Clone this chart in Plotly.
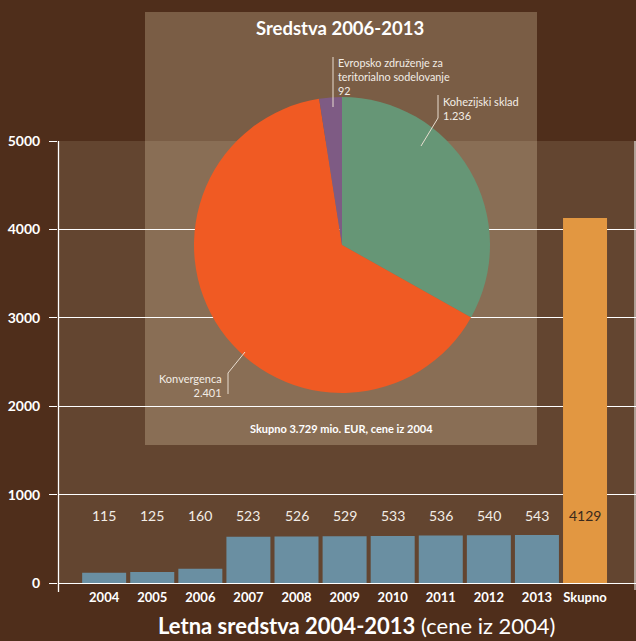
import plotly.graph_objects as go

# ---- data ----
years = ["2004", "2005", "2006", "2007", "2008", "2009", "2010", "2011", "2012", "2013", "Skupno"]
annual = [115, 125, 160, 523, 526, 529, 533, 536, 540, 543, 4129]
y_ticks = [0, 1000, 2000, 3000, 4000, 5000]

pie_labels = ["Kohezijski sklad", "Konvergenca", "Evropsko združenje za teritorialno sodelovanje"]
pie_values = [1236, 2401, 92]
pie_value_text = ["1.236", "2.401", "92"]

W, H = 636, 641
FONT = "Lato"
BG = "#4f2e1b"
PLOT_BG = "#634530"
BLUE = "#6a8fa2"
ORANGE = "#e29741"
TXT = "#f3ede6"

def px(x):
    return x / W

def py(y):
    return (H - y) / H

bar_colors = [BLUE] * (len(years) - 1) + [ORANGE]

fig = go.Figure()
fig.add_trace(go.Bar(
    x=years, y=annual, marker=dict(color=bar_colors, line=dict(width=0)),
    showlegend=False, hoverinfo="x+y", width=0.915,
))

fig.add_trace(go.Pie(
    labels=pie_labels, values=pie_values,
    marker=dict(colors=["#669676", "#f05a23", "#7e5b84"], line=dict(width=0)),
    sort=False, direction="clockwise", rotation=0,
    textinfo="none", showlegend=False,
    domain=dict(x=[px(194), px(490)], y=[py(393), py(97)]),
))

shapes = [
    # inset panel
    dict(type="rect", xref="paper", yref="paper", x0=px(145), x1=px(537), y0=py(445), y1=py(12),
         fillcolor="rgba(251,234,195,0.25)", line=dict(width=0), layer="below"),
    # left axis line
    dict(type="line", xref="paper", yref="paper", x0=px(58.5), x1=px(58.5), y0=py(592), y1=py(141),
         line=dict(color="white", width=1.3), layer="above"),
    # right edge line
    dict(type="line", xref="paper", yref="paper", x0=px(635), x1=px(635), y0=py(590), y1=py(141),
         line=dict(color="white", width=1), layer="above"),
    # connector lines for pie labels
    dict(type="path", xref="paper", yref="paper",
         path=f"M {px(333)} {py(57)} L {px(333)} {py(107)}",
         line=dict(color="#e8ddd0", width=1), layer="above"),
    dict(type="path", xref="paper", yref="paper",
         path=f"M {px(438)} {py(95)} L {px(438)} {py(118)} L {px(421)} {py(146)}",
         line=dict(color="#e8ddd0", width=1), layer="above"),
    dict(type="path", xref="paper", yref="paper",
         path=f"M {px(228)} {py(394)} L {px(228)} {py(373)} L {px(245)} {py(352)}",
         line=dict(color="#e8ddd0", width=1), layer="above"),
]

annotations = []
for i, (cat, v) in enumerate(zip(years, annual)):
    annotations.append(dict(
        x=i, y=760, xref="x", yref="y", text=str(v), showarrow=False,
        font=dict(family=FONT, size=14, color="#3a2a1c" if cat == "Skupno" else TXT),
        yanchor="middle",
    ))

annotations += [
    dict(x=px(340), y=py(28), xref="paper", yref="paper", showarrow=False,
         text="<b>Sredstva 2006-2013</b>", font=dict(family=FONT, size=18.5, color="white"),
         xanchor="center", yanchor="middle"),
    dict(x=px(341), y=py(428), xref="paper", yref="paper", showarrow=False,
         text="<b>Skupno 3.729 mio. EUR, cene iz 2004</b>", font=dict(family=FONT, size=11, color="white"),
         xanchor="center", yanchor="middle"),
    dict(x=px(336), y=py(54), xref="paper", yref="paper", showarrow=False, align="left",
         text="Evropsko združenje za<br>teritorialno sodelovanje<br>" + pie_value_text[2],
         font=dict(family=FONT, size=10.8, color=TXT), xanchor="left", yanchor="top"),
    dict(x=px(441), y=py(93), xref="paper", yref="paper", showarrow=False, align="left",
         text=pie_labels[0] + "<br>" + pie_value_text[0],
         font=dict(family=FONT, size=11, color=TXT), xanchor="left", yanchor="top"),
    dict(x=px(224), y=py(370), xref="paper", yref="paper", showarrow=False, align="right",
         text=pie_labels[1] + "<br>" + pie_value_text[1],
         font=dict(family=FONT, size=11, color=TXT), xanchor="right", yanchor="top"),
    dict(x=px(356), y=py(641), xref="paper", yref="paper", showarrow=False,
         text="<b>Letna sredstva 2004-2013</b> (cene iz 2004)",
         font=dict(family=FONT, size=22, color="white"), xanchor="center", yanchor="bottom"),
]

fig.update_layout(
    width=W, height=H,
    margin=dict(l=0, r=0, t=0, b=0, autoexpand=False),
    paper_bgcolor=BG, plot_bgcolor=PLOT_BG,
    bargap=0.085,
    shapes=shapes, annotations=annotations,
    xaxis=dict(
        domain=[px(58), 1], type="category", range=[-0.96, 11.06],
        showgrid=False, zeroline=False, showline=False, ticks="",
        tickfont=dict(family=FONT, size=13, color="white", weight="bold"),
        automargin=False, fixedrange=True, ticklabelstandoff=5,
    ),
    yaxis=dict(
        domain=[py(583), py(141)], range=[0, 5000], tickvals=y_ticks,
        showgrid=True, gridcolor="white", gridwidth=1.2,
        zeroline=True, zerolinecolor="white", zerolinewidth=1.3,
        ticks="outside", ticklen=8, tickcolor="white", tickwidth=1.2,
        tickfont=dict(family=FONT, size=14, color="white", weight="bold"),
        automargin=False, fixedrange=True, ticklabelstandoff=6,
    ),
)

fig.write_html(
    "out.html",
    config={"displayModeBar": False},
    post_script="document.body.style.margin='0';document.body.style.background='#4f2e1b';",
)
